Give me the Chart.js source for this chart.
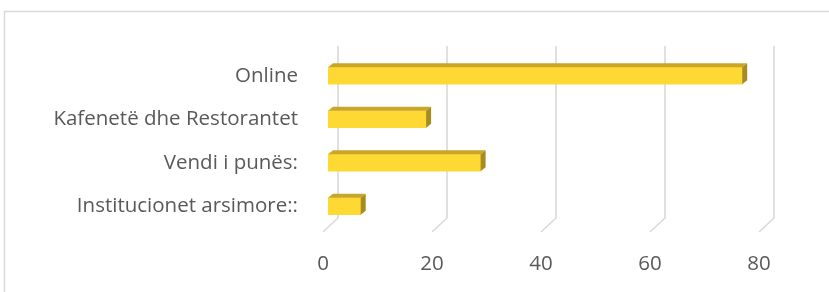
<!DOCTYPE html>
<html>
<head>
<meta charset="utf-8">
<script src="https://cdn.jsdelivr.net/npm/chart.js@4.4.0/dist/chart.umd.min.js"></script>
<style>
html,body{margin:0;padding:0;background:#fff;}
#wrap{width:829px;height:292px;position:relative;}
</style>
</head>
<body>
<div id="wrap"><canvas id="c" width="829" height="292"></canvas></div>
<script>
const categories = ["Online", "Kafenetë dhe Restorantet", "Vendi i punës:", "Institucionet arsimore::"];
const values = [76, 18, 28, 6];
const xTicks = [0, 20, 40, 60, 80];

const FRONT = '#FFD933';
const TOP = '#C9A62A';
const SIDE = '#A88B1E';
const GRID = '#D9D9D9';
const DX = 5, DY = 4;

const frame = {
  id: 'frame',
  beforeDraw(chart) {
    const ctx = chart.ctx;
    ctx.save();
    ctx.strokeStyle = GRID;
    ctx.lineWidth = 1.5;
    ctx.beginPath();
    ctx.moveTo(4.5, 292);
    ctx.lineTo(4.5, 11.5);
    ctx.lineTo(829, 11.5);
    ctx.stroke();
    ctx.restore();
  }
};

const grid3d = {
  id: 'grid3d',
  beforeDatasetsDraw(chart) {
    const ctx = chart.ctx;
    const xs = chart.scales.x;
    const area = chart.chartArea;
    ctx.save();
    ctx.strokeStyle = GRID;
    ctx.lineWidth = 1.6;
    xTicks.forEach(v => {
      const px = xs.getPixelForValue(v);
      ctx.beginPath();
      ctx.moveTo(px + 10, area.top - 8);
      ctx.lineTo(px + 10, area.bottom - 10);
      ctx.lineTo(px - 5, area.bottom + 4);
      ctx.stroke();
    });
    ctx.restore();
  }
};

const bars3d = {
  id: 'bars3d',
  afterDatasetsDraw(chart) {
    const ctx = chart.ctx;
    const meta = chart.getDatasetMeta(0);
    ctx.save();
    meta.data.forEach(el => {
      const p = el.getProps(['x', 'y', 'base', 'height'], true);
      const top = p.y - p.height / 2;
      const bot = p.y + p.height / 2;
      const l = p.base, r = p.x;
      ctx.fillStyle = TOP;
      ctx.beginPath();
      ctx.moveTo(l, top);
      ctx.lineTo(r, top);
      ctx.lineTo(r + DX, top - DY);
      ctx.lineTo(l + DX, top - DY);
      ctx.closePath();
      ctx.fill();
      ctx.fillStyle = SIDE;
      ctx.beginPath();
      ctx.moveTo(r, top);
      ctx.lineTo(r + DX, top - DY);
      ctx.lineTo(r + DX, bot - DY);
      ctx.lineTo(r, bot);
      ctx.closePath();
      ctx.fill();
    });
    ctx.restore();
  }
};

new Chart(document.getElementById('c'), {
  type: 'bar',
  data: {
    labels: categories,
    datasets: [{
      data: values,
      backgroundColor: FRONT,
      borderWidth: 0,
      barThickness: 17
    }]
  },
  options: {
    indexAxis: 'y',
    responsive: false,
    animation: false,
    devicePixelRatio: 1,
    layout: { padding: { left: 0, right: 65, top: 54, bottom: 14 } },
    plugins: { legend: { display: false }, tooltip: { enabled: false } },
    scales: {
      x: {
        min: 0, max: 80,
        afterBuildTicks(scale) { scale.ticks = xTicks.map(v => ({ value: v })); },
        afterFit(scale) { scale.height = 50; },
        grid: { display: false, drawTicks: false },
        border: { display: false },
        ticks: {
          color: '#595959',
          font: { family: 'Open Sans', size: 20.5 },
          padding: 24,
          labelOffset: -5
        }
      },
      y: {
        afterFit(scale) { scale.width = 328; },
        grid: { display: false, drawTicks: false },
        border: { display: false },
        ticks: {
          color: '#595959',
          font: { family: 'Open Sans', size: 20.5 },
          padding: 30
        }
      }
    }
  },
  plugins: [frame, grid3d, bars3d]
});
</script>
</body>
</html>
